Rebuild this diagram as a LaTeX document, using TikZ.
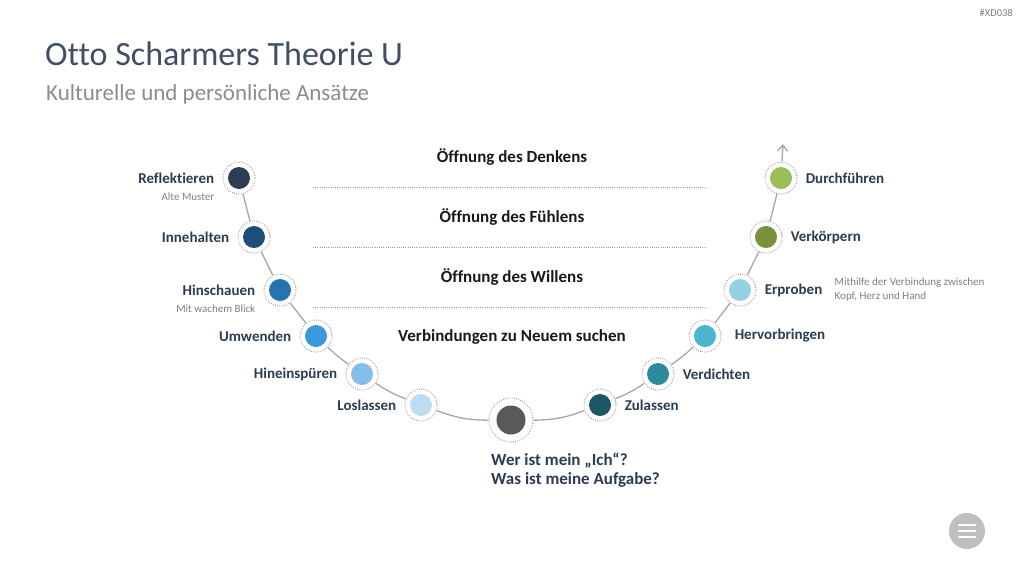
\documentclass[tikz,border=0pt]{standalone}
\usepackage{fontspec}
\setmainfont{Carlito}[Ligatures=NoCommon]
\usetikzlibrary{arrows.meta, positioning}
\definecolor{ink}{HTML}{2B3B52}
\definecolor{inksoft}{HTML}{7F7F7F}
\definecolor{inkfaint}{HTML}{8C8C8C}
\definecolor{line}{HTML}{A6A6A6}
\definecolor{ringc}{HTML}{9A9A9A}
\definecolor{cRef}{HTML}{2E3D54}
\definecolor{cInn}{HTML}{1C4E78}
\definecolor{cHin}{HTML}{2474B2}
\definecolor{cUmw}{HTML}{3A9AE0}
\definecolor{cSpu}{HTML}{85BFE9}
\definecolor{cLos}{HTML}{BCDCF2}
\definecolor{cMid}{HTML}{595959}
\definecolor{cZul}{HTML}{1D5766}
\definecolor{cVer}{HTML}{2B8A9C}
\definecolor{cHer}{HTML}{4AB6CE}
\definecolor{cErp}{HTML}{92D2E2}
\definecolor{cVkp}{HTML}{77923B}
\definecolor{cDur}{HTML}{9CBD5A}
\definecolor{menu}{HTML}{BFBFBF}

\begin{document}
\begin{tikzpicture}[x=1pt, y=1pt,
  stg/.style={circle, draw=ringc, line width=1.1pt, dash pattern=on 0.7pt off 1.5pt,
              fill=white, minimum size=32pt, inner sep=0pt,
              path picture={\fill[#1] (path picture bounding box.center) circle (11pt);}},
  ctr/.style={circle, draw=ringc, line width=1.1pt, dash pattern=on 0.7pt off 1.5pt,
              fill=white, minimum size=44pt, inner sep=0pt,
              path picture={\fill[#1] (path picture bounding box.center) circle (14.5pt);}},
  conn/.style={draw=line, line width=1.3pt},
  lbl/.style={font=\fontsize{15}{17}\selectfont\bfseries, color=ink, inner sep=1pt},
  sub/.style={font=\fontsize{11}{14}\selectfont, color=inksoft, inner sep=1pt, align=left},
  lvl/.style={font=\fontsize{17}{20}\selectfont\bfseries, color=black!90, inner sep=0pt},
  sep/.style={draw=ringc, line width=0.9pt, dash pattern=on 0.6pt off 1.6pt}
]
\useasboundingbox (0,0) rectangle (1024,-576);

% title
\node[anchor=base west, inner sep=0pt, font=\fontsize{34}{38}\selectfont, color=ink!90] (title) at (45,-65) {Otto Scharmers Theorie U};
\node[anchor=base west, inner sep=0pt, font=\fontsize{23}{26}\selectfont, color=inkfaint] (subtitle) at (46,-100) {Kulturelle und persönliche Ansätze};
\node[anchor=north east, inner sep=0pt, font=\fontsize{10.5}{12}\selectfont, color=inksoft] (tag) at (1013,-9) {\#XD038};

% levels
\node[lvl] (l1) at (512,-157) {Öffnung des Denkens};
\node[lvl] (l2) at (512,-217) {Öffnung des Fühlens};
\node[lvl] (l3) at (512,-277) {Öffnung des Willens};
\node[lvl] (l4) at (512,-337) {Verbindungen zu Neuem suchen};
\draw[sep] (313,-187) -- (706,-187);
\draw[sep] (313,-247) -- (706,-247);
\draw[sep] (313,-307) -- (706,-307);

% the U
\node[stg=cRef] (ref) at (239,-178) {};
\node[stg=cInn] (inn) at (254,-237) {};
\node[stg=cHin] (hin) at (280,-290) {};
\node[stg=cUmw] (umw) at (316,-336) {};
\node[stg=cSpu] (spu) at (362,-374) {};
\node[stg=cLos] (los) at (421,-405) {};
\node[ctr=cMid] (mid) at (511,-420) {};
\node[stg=cZul] (zul) at (600,-405) {};
\node[stg=cVer] (ver) at (658,-374) {};
\node[stg=cHer] (her) at (705,-336) {};
\node[stg=cErp] (erp) at (740,-290) {};
\node[stg=cVkp] (vkp) at (766,-237) {};
\node[stg=cDur] (dur) at (781,-178) {};
\coordinate (top) at (783,-144);

\draw[conn] (ref) -- (inn);
\draw[conn] (inn) -- (hin);
\draw[conn] (hin) -- (umw);
\draw[conn] (umw) to[bend right=4] (spu);
\draw[conn] (spu) to[bend right=6] (los);
\draw[conn] (los) to[bend right=10] (mid);
\draw[conn] (mid) to[bend right=10] (zul);
\draw[conn] (zul) to[bend right=6] (ver);
\draw[conn] (ver) to[bend right=4] (her);
\draw[conn] (her) -- (erp);
\draw[conn] (erp) -- (vkp);
\draw[conn] (vkp) -- (dur);
\draw[conn, -{Straight Barb[length=6pt, width=10pt]}] (dur) -- (top);

% labels
\node[lbl, left=7pt of ref] (lref) {Reflektieren};
\node[sub, below left=7pt and 0pt of lref.south east] (sref) {Alte Muster};
\node[lbl, left=7pt of inn] (linn) {Innehalten};
\node[lbl, left=7pt of hin] (lhin) {Hinschauen};
\node[sub, below left=7pt and 0pt of lhin.south east] (shin) {Mit wachem Blick};
\node[lbl, left=7pt of umw] (lumw) {Umwenden};
\node[lbl, left=7pt of spu] (lspu) {Hineinspüren};
\node[lbl, left=7pt of los] (llos) {Loslassen};
\node[lbl, right=7pt of zul] (lzul) {Zulassen};
\node[lbl, right=7pt of ver] (lver) {Verdichten};
\node[lbl, right=12pt of her] (lher) {Hervorbringen};
\node[lbl, right=7pt of erp] (lerp) {Erproben};
\node[sub, right=10pt of lerp] (serp) {Mithilfe der Verbindung zwischen\\Kopf, Herz und Hand};
\node[lbl, right=7pt of vkp] (lvkp) {Verkörpern};
\node[lbl, right=7pt of dur] (ldur) {Durchführen};
\node[lbl, font=\fontsize{17}{19}\selectfont\bfseries, align=left, anchor=north west] (lmid) at (490,-452) {Wer ist mein „Ich“?\\Was ist meine Aufgabe?};

% menu button
\node[circle, fill=menu, minimum size=36pt, inner sep=0pt] (btn) at (967,-531) {};
\foreach \dy in {-6,0,6}
  \draw[white, line width=2.4pt, line cap=round] ([xshift=-8pt, yshift=\dy pt]btn.center) -- ([xshift=8pt, yshift=\dy pt]btn.center);
\end{tikzpicture}
\end{document}
